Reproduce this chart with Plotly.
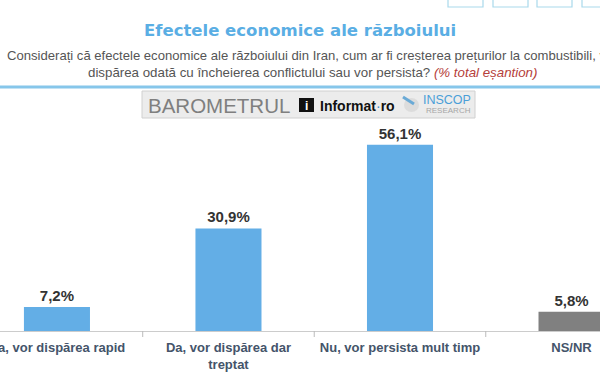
import plotly.graph_objects as go

categories = ["Da, vor dispărea rapid", "Da, vor dispărea dar<br>treptat",
              "Nu, vor persista mult timp", "NS/NR"]
values = [7.2, 30.9, 56.1, 5.8]
bar_colors = ["#63aee6", "#63aee6", "#63aee6", "#808080"]
labels = [f"{v:.1f}%".replace(".", ",") for v in values]

title_text = "Efectele economice ale războiului"
sub_line1 = "Considerați că efectele economice ale războiului din Iran, cum ar fi creșterea prețurilor la combustibili, vor"
sub_line2 = "dispărea odată cu încheierea conflictului sau vor persista? <i><span style='color:#b5403a'>(% total eșantion)</span></i>"

W, H = 600, 375
T, B = 90, 44

fig = go.Figure()
fig.add_trace(go.Bar(
    x=list(range(len(categories))), y=values,
    marker=dict(color=bar_colors, line=dict(width=0)),
    width=0.385,
    text=labels, textposition="outside",
    textfont=dict(family="Liberation Sans", size=15, color="#333333"),
    texttemplate="<b>%{text}</b>",
    cliponaxis=False,
))

fig.update_layout(
    width=W, height=H,
    margin=dict(l=0, r=0, t=T, b=B),
    paper_bgcolor="white", plot_bgcolor="white",
    showlegend=False,
    xaxis=dict(
        range=[-0.332, 3.166],
        tickmode="array",
        tickvals=list(range(len(categories))),
        ticktext=[f"<b>{c}</b>" for c in categories],
        tickfont=dict(family="Liberation Sans", size=13, color="#44546a"),
        ticklabeloverflow="allow",
        ticklabelstandoff=4,
        showgrid=False, zeroline=False,
        showline=True, linecolor="#cccccc", linewidth=1,
        ticks="", fixedrange=True, automargin=False,
    ),
    yaxis=dict(range=[0, 72.6], visible=False, fixedrange=True),
)


def py(ypix):
    # pixel y (from top of figure) -> paper coordinate
    return (H - B - ypix) / (H - T - B)


def px(xpix):
    return xpix / W


# tick marks at category boundaries
for b in [0.5, 1.5, 2.5]:
    fig.add_shape(type="line", xref="x", yref="paper", x0=b, x1=b, y0=py(331), y1=py(337),
                  line=dict(color="#bbbbbb", width=1))

# title & subtitle
fig.add_annotation(text=f"<b>{title_text}</b>", xref="paper", yref="paper",
                   x=px(300), y=py(30), showarrow=False,
                   font=dict(family="DejaVu Sans", size=16.5, color="#5aaee4"),
                   xanchor="center", yanchor="middle")
fig.add_annotation(text=sub_line1, xref="paper", yref="paper",
                   x=px(5), y=py(55), showarrow=False,
                   font=dict(family="Liberation Sans", size=13.1, color="#555555"),
                   xanchor="left", yanchor="middle")
fig.add_annotation(text=sub_line2, xref="paper", yref="paper",
                   x=px(312), y=py(72), showarrow=False,
                   font=dict(family="Liberation Sans", size=13.3, color="#555555"),
                   xanchor="center", yanchor="middle")

# blue separator line
fig.add_shape(type="line", xref="paper", yref="paper", x0=0, x1=1, y0=py(87), y1=py(87),
              line=dict(color="#86c6ea", width=3))

# top-right button outlines
for x0, x1 in [(448, 483), (493, 528), (537, 572), (582, 612)]:
    fig.add_shape(type="rect", xref="paper", yref="paper",
                  x0=px(x0), x1=px(x1), y0=py(7), y1=py(-5),
                  line=dict(color="#a9d9ec", width=1.2), fillcolor="rgba(0,0,0,0)")

# logo box
fig.add_shape(type="rect", xref="paper", yref="paper",
              x0=px(142), x1=px(475), y0=py(118), y1=py(91),
              line=dict(color="#d0d0d0", width=1), fillcolor="#ececec")
fig.add_annotation(text="BAROMETRUL", xref="paper", yref="paper",
                   x=px(146), y=py(105), showarrow=False,
                   font=dict(family="Liberation Sans", size=20.5, color="#7f7f7f"),
                   xanchor="left", yanchor="middle")
# informat icon
fig.add_shape(type="rect", xref="paper", yref="paper",
              x0=px(299), x1=px(314), y0=py(112), y1=py(98),
              line=dict(width=0), fillcolor="#111111")
fig.add_annotation(text="<b>i</b>", xref="paper", yref="paper",
                   x=px(306.5), y=py(105.5), showarrow=False,
                   font=dict(family="Liberation Sans", size=12, color="#ffffff"),
                   xanchor="center", yanchor="middle")
fig.add_annotation(text="<b>Informat</b><span style='color:#3a8fd0'>·</span><b>ro</b>",
                   xref="paper", yref="paper",
                   x=px(318), y=py(106), showarrow=False,
                   font=dict(family="Liberation Sans", size=14, color="#111111"),
                   xanchor="left", yanchor="middle")
# inscop swoosh
fig.add_shape(type="circle", xref="paper", yref="paper",
              x0=px(404), x1=px(419), y0=py(112), y1=py(98),
              line=dict(width=0), fillcolor="#dcdcdc")
fig.add_shape(type="line", xref="paper", yref="paper",
              x0=px(403), x1=px(414), y0=py(97), y1=py(104),
              line=dict(color="#6aaad6", width=3))
fig.add_annotation(text="INSCOP", xref="paper", yref="paper",
                   x=px(473), y=py(99.5), showarrow=False,
                   font=dict(family="Liberation Sans", size=12.5, color="#4a9fd8"),
                   xanchor="right", yanchor="middle")
fig.add_annotation(text="RESEARCH", xref="paper", yref="paper",
                   x=px(473), y=py(110.5), showarrow=False,
                   font=dict(family="Liberation Sans", size=8, color="#a6a6a6"),
                   xanchor="right", yanchor="middle")

fig.write_html("out.html",
               config={"displayModeBar": False},
               post_script="document.body.style.margin='0';document.body.style.overflow='hidden';")
